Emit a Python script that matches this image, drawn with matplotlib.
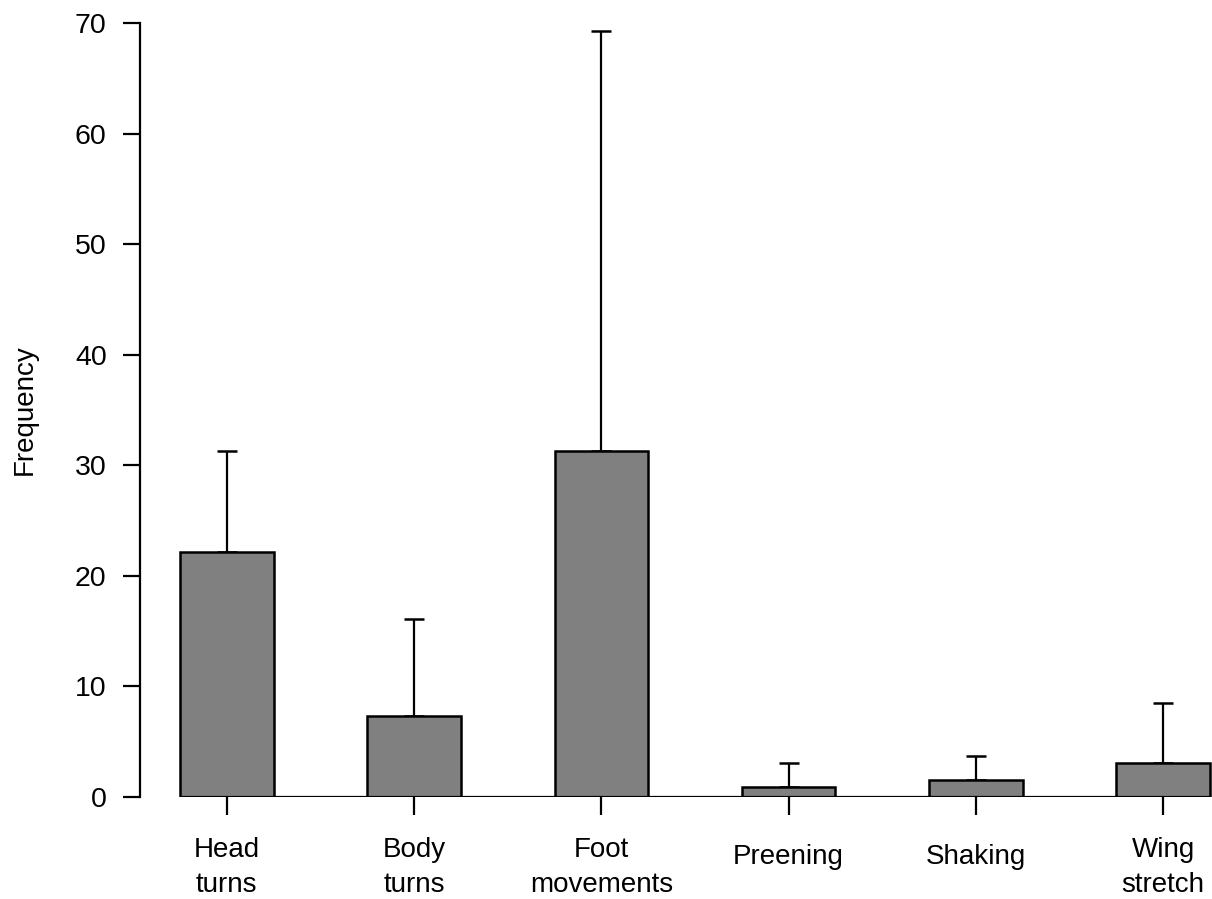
import matplotlib
matplotlib.use("Agg")
import matplotlib.pyplot as plt
import matplotlib.transforms as mtransforms
import numpy as np

plt.rcParams['font.family'] = ['Liberation Sans', 'DejaVu Sans']

# behaviour categories, mean frequency and upper error (mean + sd)
categories = ["Head\nturns", "Body\nturns", "Foot\nmovements", "Preening", "Shaking", "Wing\nstretch"]
means = [22.2, 7.3, 31.3, 0.9, 1.5, 3.05]
upper = [31.3, 16.1, 69.3, 3.05, 3.75, 8.5]

W, H = 1212, 899
fig = plt.figure(figsize=(W / 100, H / 100), dpi=100)
# axes box placed in pixel terms: y axis at x=140, y=0 at 797px, y=70 at 23px
ax = fig.add_axes([140 / W, (H - 797) / H, (W - 140) / W, (797 - 23) / H])

x = np.arange(len(categories))
bw = 0.5
err = np.array(upper) - np.array(means)

ax.bar(x, means, width=bw, color="#808080", edgecolor="black", linewidth=1.8, zorder=2)
ax.errorbar(x, means, yerr=[np.zeros(len(x)), err], fmt="none", ecolor="black",
            elinewidth=1.6, capsize=7, capthick=1.8, zorder=1)
ax.hlines(0, x[0] - bw / 2, x[-1] + bw / 2, color="black", linewidth=1.6, zorder=3)

px = 187.0  # pixels per bar slot
ax.set_xlim(x[0] - bw / 2 - 40 / px, x[-1] + bw / 2 + 2 / px)
ax.set_ylim(0, 70)

for s in ["top", "right", "bottom"]:
    ax.spines[s].set_visible(False)
ax.spines["left"].set_linewidth(1.6)

fs = 20
ax.set_yticks(range(0, 71, 10))
ax.set_xticks(x)
ax.set_xticklabels([])
ax.tick_params(axis="y", labelsize=20.5, length=12.5, width=1.6, pad=11.5)
ax.tick_params(axis="x", length=13, width=1.6)

# category labels: x in data, y in figure pixels from top
trans = mtransforms.blended_transform_factory(ax.transData, fig.transFigure)
for xi, lab in zip(x, categories):
    if "\n" in lab:
        top, bot = lab.split("\n")
        ax.text(xi, (H - 850) / H, top, transform=trans, ha="center", va="center", fontsize=fs)
        ax.text(xi, (H - 885) / H, bot, transform=trans, ha="center", va="center", fontsize=fs)
    else:
        ax.text(xi, (H - 857) / H, lab, transform=trans, ha="center", va="center", fontsize=fs)

ax.set_ylabel("Frequency", fontsize=fs, labelpad=0)
ax.yaxis.set_label_coords(-(140 - 25) / (W - 140), 0.5)
ax.yaxis.label.set_va("center")

fig.savefig("out.png", dpi=100)
